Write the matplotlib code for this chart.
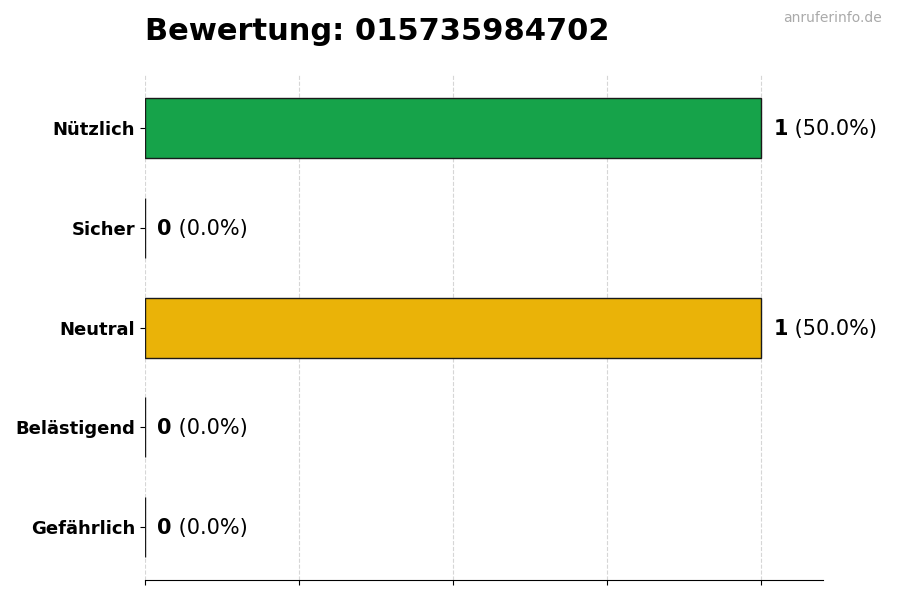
import matplotlib
matplotlib.use("Agg")
import matplotlib.pyplot as plt

# data
categories = ["Nützlich", "Sicher", "Neutral", "Belästigend", "Gefährlich"]
counts = [1, 0, 1, 0, 0]
colors = ["#16a34a", "#22c55e", "#eab308", "#f97316", "#dc2626"]
phone = "015735984702"

total = sum(counts)
pos = list(range(len(categories)))

fig = plt.figure(figsize=(9, 6), dpi=100)
ax = fig.add_axes([0.161, 0.033, 0.753, 0.842])

ax.barh(pos, counts, height=0.6, color=colors, edgecolor="#1a1a1a", linewidth=1)
ax.set_yticks(pos)
ax.set_yticklabels(categories, fontsize=13, fontweight="bold")
ax.invert_yaxis()
ax.set_xlim(0, 1.1)
ax.set_xticks([0, 0.25, 0.5, 0.75, 1.0])
ax.set_xticklabels([])
ax.grid(axis="x", linestyle="--", color="#cccccc", alpha=0.8, linewidth=0.8)
ax.set_axisbelow(True)

for s in ["top", "right", "left"]:
    ax.spines[s].set_visible(False)

for p, c in zip(pos, counts):
    pct = c / total * 100 if total else 0
    t = ax.text(c + 0.02, p + 0.01, str(c), fontsize=15, fontweight="bold", va="center", ha="left")
    ax.annotate(f" ({pct:.1f}%)", xy=(1, 0.5), xycoords=t, fontsize=15,
                va="center", ha="left")

fig.text(0.161, 0.947, f"Bewertung: {phone}", fontsize=22, fontweight="bold",
         ha="left", va="center")
fig.text(0.98, 0.97, "anruferinfo.de", fontsize=10, color="#aaaaaa",
         ha="right", va="center")

fig.savefig("out.png", dpi=100)
